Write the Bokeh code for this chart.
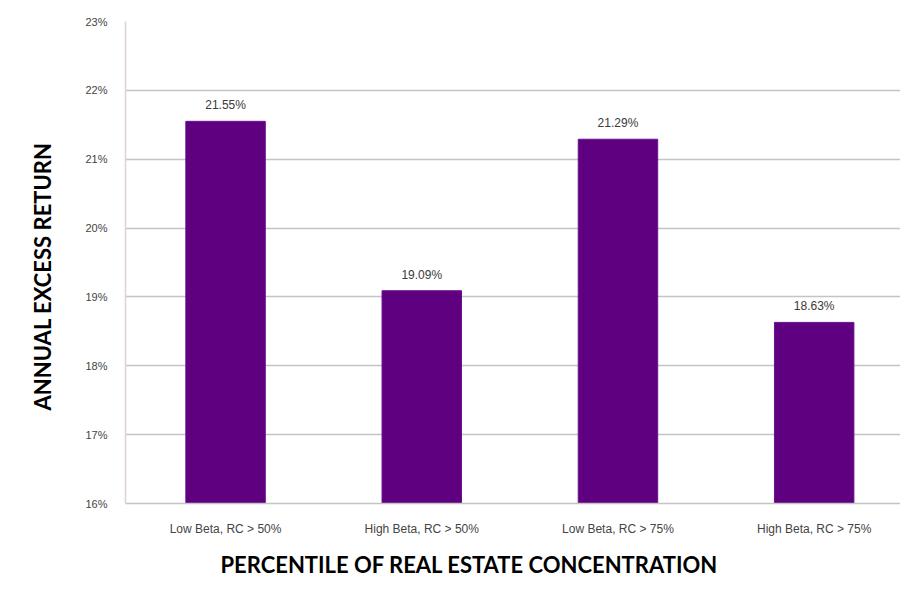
import numpy as np
from bokeh.plotting import figure
from bokeh.models import Range1d, FixedTicker, PrintfTickFormatter, ColumnDataSource, Title
from bokeh.core.properties import value
from bokeh.embed import file_html
from bokeh.resources import INLINE

categories = ["Low Beta, RC > 50%", "High Beta, RC > 50%", "Low Beta, RC > 75%", "High Beta, RC > 75%"]
returns = [21.55, 19.09, 21.29, 18.63]
value_labels = ["21.55%", "19.09%", "21.29%", "18.63%"]
y_ticks = [16, 17, 18, 19, 20, 21, 22, 23]
x_title = "PERCENTILE OF  REAL ESTATE CONCENTRATION"
y_title = "ANNUAL EXCESS RETURN"

xs = np.arange(len(categories))
src = ColumnDataSource(dict(x=xs, top=returns, label=value_labels))

p = figure(width=900, height=588, output_backend="svg", toolbar_location=None,
           x_range=Range1d(-0.51, 3.44), y_range=Range1d(16, 23),
           min_border_left=124, min_border_right=0, min_border_top=21, min_border_bottom=85)
p.outline_line_color = None
p.background_fill_color = "white"

p.vbar(x="x", top="top", bottom=16, width=0.405, source=src,
       fill_color="#5e0080", line_color="#6a1090", line_width=1)

p.text(x="x", y="top", text="label", source=src, text_align="center", text_baseline="bottom",
       y_offset=-9, text_font=value("Liberation Sans"), text_font_size="12px", text_color="#3a3a3a")

p.xgrid.grid_line_color = None
p.ygrid.grid_line_color = "#c4c4c4"
p.ygrid.grid_line_width = 1.5
p.ygrid.ticker = FixedTicker(ticks=y_ticks)

ya = p.yaxis[0]
ya.ticker = FixedTicker(ticks=y_ticks)
ya.formatter = PrintfTickFormatter(format="%d%%")
ya.axis_line_color = "#ddd0dd"
ya.axis_line_width = 1.5
ya.major_tick_line_color = None
ya.minor_tick_line_color = None
ya.major_label_standoff = 12
ya.major_label_text_font = "Liberation Sans"
ya.major_label_text_font_size = "11px"
ya.major_label_text_color = "#444444"

xa = p.xaxis[0]
xa.ticker = FixedTicker(ticks=list(xs))
xa.major_label_overrides = {int(i): c for i, c in zip(xs, categories)}
xa.axis_line_color = "#c4c4c4"
xa.axis_line_width = 1.5
xa.major_tick_line_color = None
xa.minor_tick_line_color = None
xa.major_label_standoff = 12
xa.major_label_text_font = "Liberation Sans"
xa.major_label_text_font_size = "12px"
xa.major_label_text_color = "#444444"

p.add_layout(Title(text=x_title, align="left", offset=95, standoff=21,
                   text_font="Lato", text_font_style="bold", text_font_size="22px",
                   text_color="#000000"), "below")
p.add_layout(Title(text=y_title, align="left", offset=93, standoff=53,
                   text_font="Lato", text_font_style="bold", text_font_size="22px",
                   text_color="#000000"), "left")

open("out.html", "w").write(file_html(p, INLINE))
